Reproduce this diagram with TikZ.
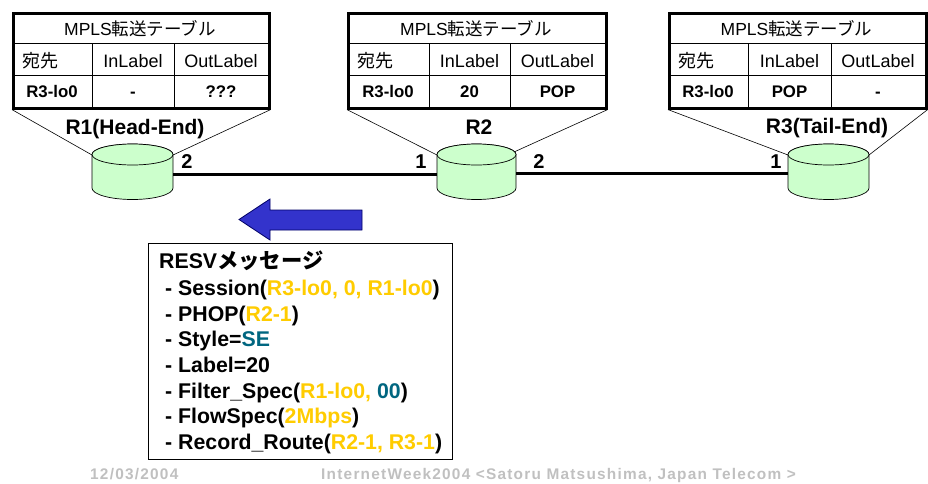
\documentclass[tikz,border=0pt]{standalone}
\usepackage{fontspec}
\setmainfont{Liberation Sans}
\newfontfamily\cjk{Noto Sans CJK JP}
\newfontfamily\footfont[LetterSpace=8]{Liberation Sans}
\definecolor{routerfill}{HTML}{CCFFCC}
\definecolor{gold}{HTML}{FFCC00}
\definecolor{teal}{HTML}{006680}
\definecolor{arrowblue}{HTML}{3333CC}
\definecolor{footgrey}{HTML}{C0C0C0}
\newcommand{\gd}[1]{\textcolor{gold}{#1}}
\newcommand{\tl}[1]{\textcolor{teal}{#1}}
\tikzset{
  x=1pt,y=-1pt,
  tableframe/.style={draw=black,line width=2.6pt,inner sep=0,anchor=north west},
  gridline/.style={draw=black,line width=0.9pt},
  callout/.style={draw=black,line width=0.6pt},
  link/.style={draw=black,line width=3pt},
  cellhead/.style={inner sep=0,font=\fontsize{18}{20}\selectfont,anchor=base},
  celltitle/.style={inner sep=0,font=\fontsize{17.5}{20}\selectfont,anchor=base},
  cellbody/.style={inner sep=0,font=\fontsize{16.8}{18}\bfseries\selectfont,anchor=base},
  routerlabel/.style={inner sep=0,font=\fontsize{21}{24}\bfseries\selectfont,anchor=base},
  portlabel/.style={inner sep=0,font=\fontsize{20}{22}\bfseries\selectfont,anchor=base},
  routerbox/.style={inner sep=0,minimum width=#1,minimum height=56pt,anchor=center},
  msg/.style={inner sep=0,anchor=base west,font=\fontsize{21.3}{24}\bfseries\selectfont},
  foot/.style={inner sep=0,anchor=base west,text=footgrey,font=\fontsize{15.4}{18}\bfseries\footfont},
}
% name, left, right, col1, col2, dest, in, out
\newcommand{\mplstable}[8]{%
  \node[tableframe,minimum width={#3-#2},minimum height=95pt] (#1) at (#2,12) {};
  \draw[gridline] (#2,43) -- (#3,43);
  \draw[gridline] (#2,75) -- (#3,75);
  \draw[gridline] (#4,43) -- (#4,107);
  \draw[gridline] (#5,43) -- (#5,107);
  \node[celltitle] (#1t) at ({(#2+#3)/2},35) {MPLS{\cjk 転送テーブル}};
  \node[cellhead,anchor=base west] (#1a) at ({#2+10},67) {\cjk 宛先};
  \node[cellhead] (#1b) at ({(#4+#5)/2},67.5) {InLabel};
  \node[cellhead] (#1c) at ({(#5+#3)/2},67.5) {OutLabel};
  \node[cellbody] (#1d) at ({(#2+#4)/2},97) {#6};
  \node[cellbody] (#1e) at ({(#4+#5)/2},97) {#7};
  \node[cellbody] (#1f) at ({(#5+#3)/2},97) {#8};
}
% name, left, right, centre-y of node
\newcommand{\router}[4]{%
  \filldraw[fill=routerfill,draw=black,line width=0.7pt]
    (#2,154.5) arc[start angle=180,end angle=360,x radius={(#3-#2)/2},y radius=10.5]
    -- (#3,188) arc[start angle=0,end angle=180,x radius={(#3-#2)/2},y radius=11.5]
    -- cycle;
  \filldraw[fill=routerfill,draw=black,line width=0.7pt]
    ({(#2+#3)/2},154.5) ellipse[x radius={(#3-#2)/2},y radius=10.5];
  \node[routerbox=#3-#2] (#1) at ({(#2+#3)/2},#4) {};
  \coordinate (#1nw) at (#2,155);
  \coordinate (#1ne) at (#3,155);
}
\begin{document}
\begin{tikzpicture}
\useasboundingbox (0,0) rectangle (928,483);
% tables
\mplstable{t1}{12}{268}{92}{174}{R3-lo0}{-}{???}
\mplstable{t2}{347}{605}{429}{510}{R3-lo0}{20}{POP}
\mplstable{t3}{668}{925}{748}{831}{R3-lo0}{POP}{-}
% routers
\router{r1}{92}{173}{174}
\router{r2}{437}{516}{174}
\router{r3}{788}{869}{173}
% callouts
\draw[callout] (t1.south west) -- (r1nw);
\draw[callout] (t1.south east) -- (r1ne);
\draw[callout] (t2.south west) -- (r2nw);
\draw[callout] (t2.south east) -- (514,152);
\draw[callout] (t3.south west) -- (r3nw);
\draw[callout] (t3.south east) -- (r3ne);
% links
\draw[link] (r1.east) -- (r2.west);
\draw[link] (r2.east |- 0,173) -- (r3.west);
% labels
\node[routerlabel] (l1) at (135,134) {R1(Head-End)};
\node[routerlabel] (l2) at (479,134) {R2};
\node[routerlabel] (l3) at (827,133) {R3(Tail-End)};
\node[portlabel] (p12) at (187,168) {2};
\node[portlabel] (p21) at (421,168) {1};
\node[portlabel] (p22) at (539,168) {2};
\node[portlabel] (p31) at (776,168) {1};
% arrow
\filldraw[fill=arrowblue,draw=black!60!blue,line width=0.8pt]
  (239,219.5) -- (270,199) -- (270,210) -- (362,210) -- (362,230) -- (270,230) -- (270,240) -- cycle;
% message box
\node[draw=black,line width=0.9pt,fill=white,inner sep=0,minimum width=304pt,minimum height=216pt,anchor=north west] (box) at (148,243) {};
\node[msg] (m0) at (159,268) {RESV{\cjk\bfseries メッセージ}};
\node[msg] (m1) at (165,295) {- Session(\gd{R3-lo0, 0, R1-lo0})};
\node[msg] (m2) at (165,321) {- PHOP(\gd{R2-1})};
\node[msg] (m3) at (165,346) {- Style=\tl{SE}};
\node[msg] (m4) at (165,372) {- Label=20};
\node[msg] (m5) at (165,398) {- Filter\_Spec(\gd{R1-lo0,} \tl{00})};
\node[msg] (m6) at (165,423) {- FlowSpec(\gd{2Mbps})};
\node[msg] (m7) at (165,449) {- Record\_Route(\gd{R2-1, R3-1})};
% footer
\node[foot] (f1) at (90,479) {12/03/2004};
\node[foot] (f2) at (321,479) {InternetWeek2004 <Satoru Matsushima, Japan Telecom >};
\end{tikzpicture}
\end{document}
